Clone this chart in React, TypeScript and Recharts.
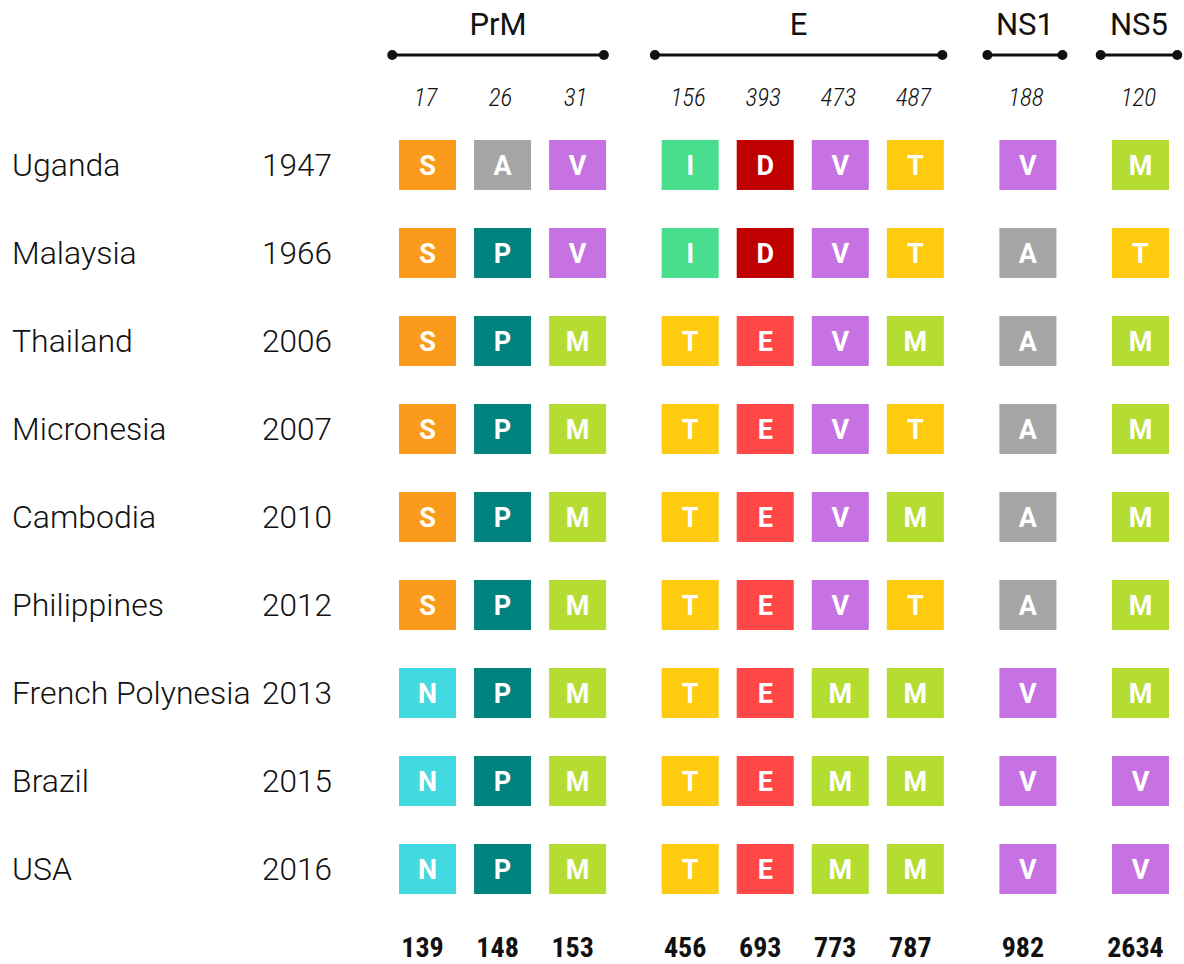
import {
  ScatterChart, Scatter, XAxis, YAxis, ReferenceLine, ReferenceDot
} from 'recharts'

// virus strains (rows)
const COUNTRIES = ['Uganda', 'Malaysia', 'Thailand', 'Micronesia', 'Cambodia', 'Philippines', 'French Polynesia', 'Brazil', 'USA']
const YEARS = ['1947', '1966', '2006', '2007', '2010', '2012', '2013', '2015', '2016']

// protein groups, with how many sites each has and the bracket extent (x units)
const GROUPS = [
  { name: 'PrM', size: 3, from: -0.47, to: 2.35 },
  { name: 'E', size: 4, from: 3.03, to: 6.86 },
  { name: 'NS1', size: 1, from: 7.46, to: 8.46 },
  { name: 'NS5', size: 1, from: 8.97, to: 9.99 },
]

// residue position within the protein (top) and in the polyprotein (bottom)
const POSITIONS = ['17', '26', '31', '156', '393', '473', '487', '188', '120']
const TOTALS = ['139', '148', '153', '456', '693', '773', '787', '982', '2634']

// amino acid per row, one letter per column
const RESIDUES = [
  'SAVIDVTVM',
  'SPVIDVTAT',
  'SPMTEVMAM',
  'SPMTEVTAM',
  'SPMTEVMAM',
  'SPMTEVTAM',
  'NPMTEMMVM',
  'NPMTEMMVV',
  'NPMTEMMVV',
]

const AA_COLORS: Record<string, string> = {
  S: '#FB9B1B',
  A: '#A5A5A5',
  V: '#C672E3',
  I: '#48DE8E',
  D: '#C00000',
  T: '#FECB0E',
  M: '#B5DC31',
  P: '#00827F',
  E: '#FF4747',
  N: '#43D9E0',
}

const FONT = 'Roboto, "Noto Sans", sans-serif'
const NARROW = '"Roboto Condensed", "Liberation Sans Narrow", "DejaVu Sans Condensed", Roboto, sans-serif'
const INK = '#111111'

// column x: one unit per site, half a unit extra between groups
const COL_X: number[] = []
GROUPS.forEach((g, gi) => {
  for (let k = 0; k < g.size; k++) COL_X.push(COL_X.length + gi * 0.5)
})

const cells = RESIDUES.flatMap((row, ri) =>
  row.split('').map((aa, ci) => ({ x: COL_X[ci], y: ri, aa }))
)

const HEADER_Y = -1.25

const Cell = (props: any) => {
  const { cx, cy, payload } = props
  return (
    <g>
      <rect x={cx - 28.5} y={cy - 25} width={57} height={50} fill={AA_COLORS[payload.aa]} />
      <text
        x={cx}
        y={cy}
        dy="0.36em"
        textAnchor="middle"
        fill="#fff"
        fontFamily={FONT}
        fontWeight={700}
        fontSize={27}
      >
        {payload.aa}
      </text>
    </g>
  )
}

const RowTick = (props: any) => {
  const { y, payload } = props
  const i = payload.value
  return (
    <g>
      <text x={12} y={y} dy="0.34em" fill={INK} fontFamily={FONT} fontWeight={300} fontSize={32}>
        {COUNTRIES[i]}
      </text>
      <text x={332} y={y} dy="0.34em" textAnchor="end" fill={INK} fontFamily={FONT} fontWeight={300} fontSize={31.5}>
        {YEARS[i]}
      </text>
    </g>
  )
}

const TopTick = (props: any) => {
  const { x, y, payload } = props
  const i = COL_X.indexOf(payload.value)
  return (
    <text x={x - 2} y={y - 14} textAnchor="middle" fill={INK} fontFamily={NARROW} fontStyle="italic" fontWeight={300} fontSize={25}>
      {POSITIONS[i]}
    </text>
  )
}

const BottomTick = (props: any) => {
  const { x, y, payload } = props
  const i = COL_X.indexOf(payload.value)
  return (
    <text x={x - 5} y={y + 47} textAnchor="middle" fill={INK} fontFamily={NARROW} fontWeight={700} fontSize={28}>
      {TOTALS[i]}
    </text>
  )
}

export default function App() {
  return (
    <div style={{ position: 'absolute', left: 0, top: 0, background: '#fff' }}>
      <ScatterChart width={1184} height={964} margin={{ top: 0, right: 0, bottom: 0, left: 0 }}>
        <XAxis
          xAxisId="top"
          orientation="top"
          type="number"
          dataKey="x"
          domain={[-0.633, 10.08]}
          ticks={COL_X}
          interval={0}
          height={120}
          axisLine={false}
          tickLine={false}
          tickSize={0}
          tickMargin={0}
          tick={<TopTick />}
        />
        <XAxis
          xAxisId="bottom"
          orientation="bottom"
          type="number"
          dataKey="x"
          domain={[-0.633, 10.08]}
          ticks={COL_X}
          interval={0}
          height={54}
          axisLine={false}
          tickLine={false}
          tickSize={0}
          tickMargin={0}
          tick={<BottomTick />}
        />
        <YAxis
          type="number"
          dataKey="y"
          domain={[-0.511, 8.466]}
          reversed
          ticks={COUNTRIES.map((_, i) => i)}
          interval={0}
          width={380}
          axisLine={false}
          tickLine={false}
          tick={<RowTick />}
        />
        <Scatter data={cells} xAxisId="top" shape={<Cell />} isAnimationActive={false} />
        <Scatter data={cells} xAxisId="bottom" shape={() => <g />} isAnimationActive={false} />
        {GROUPS.map(g => (
          <ReferenceLine
            key={g.name}
            xAxisId="top"
            ifOverflow="visible"
            segment={[{ x: g.from, y: HEADER_Y }, { x: g.to, y: HEADER_Y }]}
            stroke={INK}
            strokeWidth={3}
            label={{ value: g.name, position: 'top', offset: 20, fill: INK, fontSize: 31, fontFamily: FONT }}
          />
        ))}
        {GROUPS.flatMap(g => [g.from, g.to].map((x, k) => (
          <ReferenceDot
            key={g.name + k}
            xAxisId="top"
            x={x}
            y={HEADER_Y}
            r={5}
            fill={INK}
            stroke="none"
            ifOverflow="visible"
          />
        )))}
      </ScatterChart>
    </div>
  )
}
